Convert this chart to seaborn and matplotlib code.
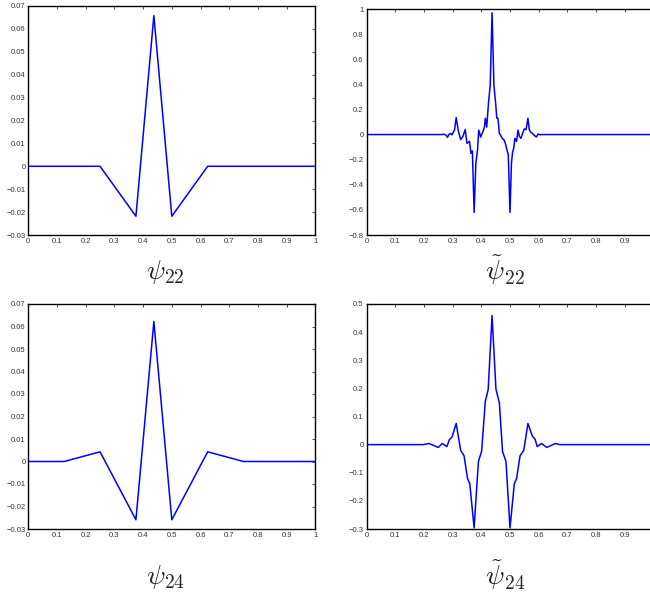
import matplotlib
matplotlib.use("Agg")
import matplotlib.pyplot as plt
from matplotlib.ticker import FuncFormatter, MultipleLocator
import seaborn as sns

# psi_22 (top left)
psi22_x = [0.0, 0.25, 0.375, 0.4375, 0.5, 0.625, 1.0]
psi22_y = [0.0, 0.0, -0.0218, 0.0658, -0.0218, 0.0, 0.0]

# psi_24 (bottom left)
psi24_x = [0.0, 0.125, 0.25, 0.375, 0.4375, 0.5, 0.625, 0.75, 1.0]
psi24_y = [0.0, 0.0, 0.0043, -0.0259, 0.0622, -0.0259, 0.0043, 0.0, 0.0]

# dual psi~_22 (top right)
dual22_x = [0.0, 0.262, 0.270, 0.277, 0.282, 0.287, 0.293, 0.298, 0.303, 0.307,
            0.3125, 0.320, 0.328, 0.336, 0.344, 0.350, 0.359, 0.364, 0.369, 0.375,
            0.381, 0.387, 0.391, 0.398, 0.403, 0.407, 0.411, 0.414, 0.419, 0.425,
            0.431, 0.4375, 0.444, 0.450, 0.454, 0.458, 0.463, 0.467, 0.473, 0.480,
            0.485, 0.489, 0.494, 0.500, 0.505, 0.509, 0.513, 0.517, 0.523, 0.528,
            0.533, 0.538, 0.544, 0.550, 0.556, 0.5625, 0.567, 0.572, 0.578, 0.584,
            0.592, 0.598, 0.604, 0.611, 0.999]
dual22_y = [0.0, 0.0, 0.003, -0.005, -0.022, 0.0, 0.008, -0.002, 0.02, 0.04,
            0.135, 0.03, -0.04, -0.015, 0.04, -0.07, -0.055, -0.15, -0.13, -0.62,
            -0.23, -0.12, 0.035, -0.02, 0.01, 0.03, 0.06, 0.13, 0.06, 0.25,
            0.39, 0.97, 0.39, 0.25, 0.13, 0.13, 0.01, -0.005, -0.03, -0.045,
            -0.08, -0.12, -0.16, -0.62, -0.23, -0.14, -0.11, -0.03, -0.055, 0.035,
            -0.015, -0.03, 0.01, 0.045, 0.04, 0.13, 0.04, 0.02, 0.01, -0.005,
            -0.02, 0.005, -0.002, 0.0, 0.0]

# dual psi~_24 (bottom right)
dual24_x = [0.0, 0.198, 0.218, 0.250, 0.264, 0.280, 0.289, 0.298, 0.3125, 0.328,
            0.340, 0.352, 0.360, 0.375, 0.390, 0.401, 0.414, 0.424, 0.4375, 0.451,
            0.463, 0.474, 0.486, 0.500, 0.515, 0.523, 0.535, 0.548, 0.5625, 0.578,
            0.587, 0.595, 0.610, 0.628, 0.658, 0.674, 0.999]
dual24_y = [0.0, 0.0, 0.004, -0.01, 0.004, -0.007, 0.018, 0.027, 0.075, -0.02,
            -0.04, -0.12, -0.14, -0.296, -0.06, -0.024, 0.154, 0.196, 0.459, 0.198,
            0.148, -0.024, -0.06, -0.296, -0.14, -0.12, -0.04, -0.02, 0.075, 0.03,
            0.02, -0.007, 0.004, -0.01, 0.004, 0.0, 0.0]

W, H = 650, 592

sns.set_style("white")
plt.rcParams["font.family"] = ["Liberation Sans", "DejaVu Sans"]
plt.rcParams["mathtext.fontset"] = "cm"


def tick_fmt(v, _):
    s = "%g" % round(v, 6)
    if s == "-0":
        s = "0"
    return s.replace("-", "\u2212")


def draw(rect_px, x, y, xlim, ylim, ystep):
    left, top, right, bottom = rect_px
    ax = fig.add_axes([left / W, 1 - bottom / H, (right - left) / W, (bottom - top) / H])
    sns.lineplot(x=x, y=y, ax=ax, color="#0000ff", linewidth=1.1,
                 estimator=None, sort=False)
    ax.set_xlim(*xlim)
    ax.set_ylim(*ylim)
    ax.xaxis.set_major_locator(MultipleLocator(0.1))
    ax.yaxis.set_major_locator(MultipleLocator(ystep))
    ax.xaxis.set_major_formatter(FuncFormatter(tick_fmt))
    ax.yaxis.set_major_formatter(FuncFormatter(tick_fmt))
    ax.tick_params(direction="in", length=2.5, width=0.6, labelsize=5.5,
                   top=True, right=True, pad=2, colors="#333333")
    for sp in ax.spines.values():
        sp.set_linewidth(1.0)
        sp.set_color("black")
    ax.set_xlabel("")
    ax.set_ylabel("")
    return ax


fig = plt.figure(figsize=(W / 100, H / 100), dpi=100)

draw((28.3, 6, 315.3, 235), psi22_x, psi22_y, (0, 1), (-0.03, 0.07), 0.01)
draw((366.5, 9, 653.2, 235), dual22_x, dual22_y, (0, 0.999), (-0.8, 1.0), 0.2)
draw((28.3, 304, 315.3, 529), psi24_x, psi24_y, (0, 1), (-0.03, 0.07), 0.01)
draw((366.5, 304, 653.2, 529), dual24_x, dual24_y, (0, 0.999), (-0.3, 0.5), 0.1)

lab_kw = dict(fontsize=20, ha="center", va="center")
fig.text(165 / W, 1 - 272 / H, r"$\psi_{22}$", **lab_kw)
fig.text(505 / W, 1 - 270 / H, r"$\tilde{\psi}_{22}$", **lab_kw)
fig.text(165 / W, 1 - 577 / H, r"$\psi_{24}$", **lab_kw)
fig.text(505 / W, 1 - 575 / H, r"$\tilde{\psi}_{24}$", **lab_kw)

fig.savefig("out.png", dpi=100)
plt.close(fig)
